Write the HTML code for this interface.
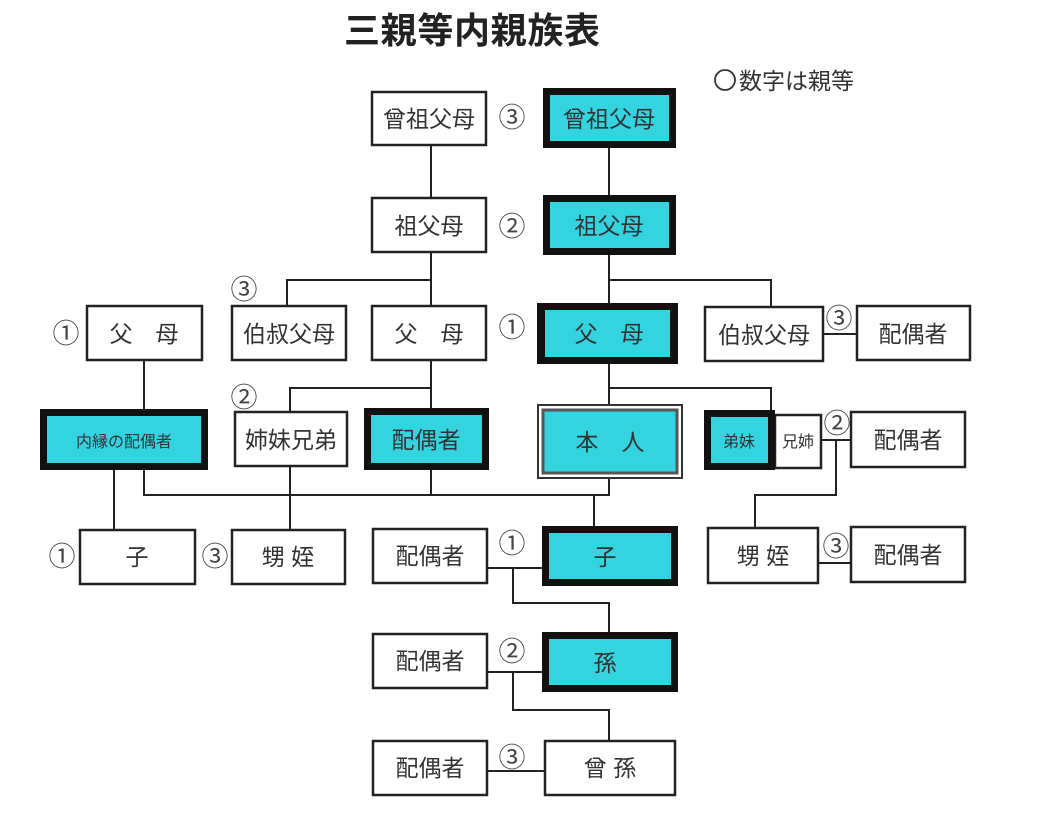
<!DOCTYPE html>
<html><head><meta charset="utf-8"><style>
html,body{margin:0;padding:0;background:#fff;}
svg{display:block;}
text{font-family:"Liberation Sans","Noto Sans CJK JP",sans-serif;fill:#333;}
</style></head><body>
<svg width="1040" height="820" viewBox="0 0 1040 820" xmlns="http://www.w3.org/2000/svg">
<rect width="1040" height="820" fill="#fff"/>
<text x="344" y="43" font-size="36" font-weight="bold" textLength="256" style="fill:#222">三親等内親族表</text>
<circle cx="725" cy="80" r="10" fill="none" stroke="#333" stroke-width="1.8"/>
<text x="739" y="89" font-size="23">数字は親等</text>

<g stroke="#222" stroke-width="2" fill="none">
<line x1="431" y1="145" x2="431" y2="198"/>
<line x1="609" y1="148" x2="609" y2="195"/>
<line x1="431" y1="252" x2="431" y2="306"/>
<line x1="609" y1="255" x2="609" y2="303"/>
<polyline points="287,306 287,280 431,280"/>
<polyline points="609,280 771,280 771,307"/>
<line x1="144" y1="360" x2="144" y2="409"/>
<line x1="431" y1="360" x2="431" y2="408"/>
<polyline points="290,412 290,388 431,388"/>
<line x1="609" y1="364" x2="609" y2="405"/>
<polyline points="609,388 771,388 771,410"/>
<polyline points="144,470 144,495 609,495 609,478"/>
<line x1="431" y1="470" x2="431" y2="495"/>
<line x1="594" y1="495" x2="594" y2="526"/>
<line x1="114" y1="470" x2="114" y2="530"/>
<line x1="290" y1="466" x2="290" y2="530"/>
<line x1="821" y1="440" x2="851" y2="440"/>
<polyline points="836,440 836,495 755,495 755,528"/>
<line x1="823" y1="334" x2="857" y2="334"/>
<line x1="818" y1="563" x2="851" y2="563"/>
<line x1="487" y1="568" x2="542" y2="568"/>
<polyline points="513,568 513,603 609,603 609,632"/>
<line x1="487" y1="672" x2="542" y2="672"/>
<polyline points="513,672 513,710 609,710 609,741"/>
<line x1="487" y1="771" x2="545" y2="771"/>
</g>

<g fill="#fff" stroke="#222" stroke-width="2.5">
<rect x="372" y="92" width="114" height="53"/>
<rect x="372" y="198" width="114" height="54"/>
<rect x="232" y="306" width="114" height="54"/>
<rect x="372" y="306" width="114" height="54"/>
<rect x="87" y="306" width="115" height="54"/>
<rect x="705" y="307" width="118" height="54"/>
<rect x="857" y="306" width="113" height="54"/>
<rect x="235" y="412" width="112" height="54"/>
<rect x="775" y="415" width="46" height="53"/>
<rect x="851" y="412" width="114" height="55"/>
<rect x="80" y="530" width="115" height="54"/>
<rect x="232" y="530" width="113" height="54"/>
<rect x="373" y="529" width="114" height="54"/>
<rect x="708" y="528" width="110" height="55"/>
<rect x="851" y="527" width="114" height="55"/>
<rect x="373" y="634" width="114" height="54"/>
<rect x="373" y="741" width="114" height="54"/>
<rect x="545" y="741" width="130" height="54"/>
</g>

<g>
<rect x="543" y="88" width="133" height="60" fill="#111"/><rect x="550" y="95" width="119" height="46" fill="#33d3e0"/>
<rect x="543" y="195" width="133" height="60" fill="#111"/><rect x="550" y="202" width="119" height="46" fill="#33d3e0"/>
<rect x="537" y="303" width="141" height="61" fill="#111"/><rect x="545" y="310" width="125" height="47" fill="#33d3e0"/>
<rect x="40" y="409" width="168" height="61" fill="#111"/><rect x="47" y="416" width="154" height="47" fill="#33d3e0"/>
<rect x="364" y="408" width="125" height="62" fill="#111"/><rect x="371" y="415" width="111" height="48" fill="#33d3e0"/>
<rect x="704" y="410" width="71" height="60" fill="#111"/><rect x="711" y="417" width="57" height="46" fill="#33d3e0"/>
<rect x="542" y="526" width="136" height="60" fill="#111"/><rect x="549" y="533" width="122" height="46" fill="#33d3e0"/>
<rect x="542" y="632" width="136" height="60" fill="#111"/><rect x="549" y="639" width="122" height="46" fill="#33d3e0"/>
<rect x="538" y="405" width="144" height="73" fill="#fff" stroke="#333" stroke-width="2"/>
<rect x="543" y="410" width="134" height="63" fill="#33d3e0" stroke="#555" stroke-width="3"/>
</g>

<g font-size="23" text-anchor="middle">
<text x="429" y="127">曾祖父母</text>
<text x="609" y="127">曾祖父母</text>
<text x="429" y="234">祖父母</text>
<text x="609" y="234">祖父母</text>
<text x="289" y="342">伯叔父母</text>
<text x="429" y="342">父　母</text>
<text x="144" y="342">父　母</text>
<text x="609" y="342">父　母</text>
<text x="764" y="343">伯叔父母</text>
<text x="913" y="342">配偶者</text>
<text x="291" y="448">姉妹兄弟</text>
<text x="426" y="448">配偶者</text>
<text x="610" y="450">本　人</text>
<text x="908" y="448">配偶者</text>
<text x="137" y="565">子</text>
<text x="288" y="565">甥 姪</text>
<text x="430" y="564">配偶者</text>
<text x="605" y="565">子</text>
<text x="763" y="564">甥 姪</text>
<text x="908" y="563">配偶者</text>
<text x="430" y="669">配偶者</text>
<text x="605" y="671">孫</text>
<text x="430" y="776">配偶者</text>
<text x="610" y="776">曾 孫</text>
</g>
<text x="124" y="447" font-size="16" text-anchor="middle">内縁の配偶者</text>
<text x="739" y="447" font-size="16" text-anchor="middle">弟妹</text>
<text x="798" y="447" font-size="16" text-anchor="middle">兄姉</text>

<g font-size="27" text-anchor="middle">
<text x="512" y="127" style="fill:#444">③</text>
<text x="512" y="236" style="fill:#444">②</text>
<text x="244" y="299" style="fill:#444">③</text>
<text x="512" y="337" style="fill:#444">①</text>
<text x="66" y="343" style="fill:#444">①</text>
<text x="839" y="328" style="fill:#444">③</text>
<text x="244" y="407" style="fill:#444">②</text>
<text x="837" y="433" style="fill:#444">②</text>
<text x="62" y="566" style="fill:#444">①</text>
<text x="215" y="566" style="fill:#444">③</text>
<text x="512" y="553" style="fill:#444">①</text>
<text x="836" y="556" style="fill:#444">③</text>
<text x="512" y="661" style="fill:#444">②</text>
<text x="512" y="767" style="fill:#444">③</text>
</g>
</svg>
</body></html>
